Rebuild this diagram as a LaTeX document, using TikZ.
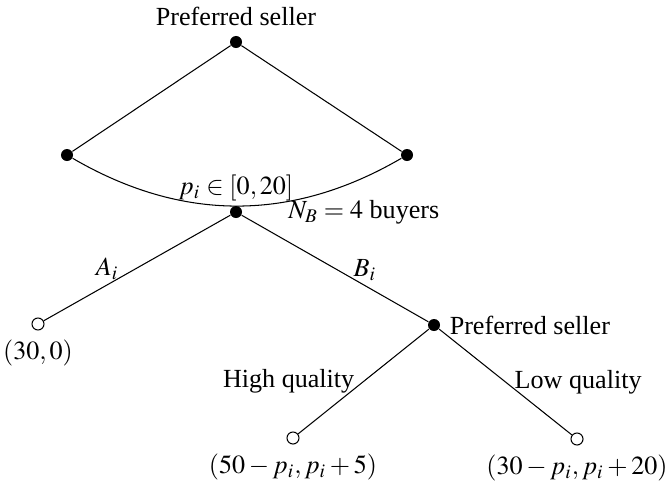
\documentclass[tikz,border=0pt]{standalone}
\usepackage{amsmath}
\usepackage{mathptmx}
\usepackage[no-math]{fontspec}
\setmainfont{Liberation Serif}
\usepackage{tikz}
\usepackage{xcolor}

\begin{document}
\begin{tikzpicture}[x=0.383pt, y=-0.383pt,
    dot/.style={circle, fill=black, inner sep=0pt, minimum size=4.6pt},
    leaf/.style={circle, draw, fill=white, inner sep=0pt, minimum size=4.6pt}]
    \useasboundingbox (0,0) rectangle (667,485);
    % Top of the tree
    \node[dot, label=above:{Preferred seller}] (root) at (236,42) {};
    \node[dot] (lft) at (67,155) {};
    \node[dot] (rgt) at (407,155) {};
    \draw (root) -- (lft);
    \draw (root) -- (rgt);
    \draw (lft) .. controls (182,222) and (292,222) .. (rgt);
    % Buyer
    \node[dot, label={[label distance=-2pt]above:$p_i \in [0,20]$},
        label={[label distance=14pt]right:$N_B = 4$ buyers}] (buyer) at (236,212) {};
    \node[leaf, label=below:{$(30,0)$}] (outA) at (38,324) {};
    \node[dot, label=right:{Preferred seller}] (sel) at (434,325) {};
    \draw (buyer) -- node[above, pos=0.66, yshift=-1.5pt] {$A_i$} (outA);
    \draw (buyer) -- node[above, pos=0.66, yshift=-1.5pt] {$B_i$} (sel);
    % Quality
    \node[leaf, label=below:{$(50-p_i, p_i+5)$}] (high) at (293,438) {};
    \node[leaf, label=below:{$(30-p_i, p_i+20)$}] (low) at (577,439) {};
    \draw (sel) -- node[left, pos=0.5] {High quality} (high);
    \draw (sel) -- node[right, pos=0.5] {Low quality} (low);
\end{tikzpicture}
\end{document}
